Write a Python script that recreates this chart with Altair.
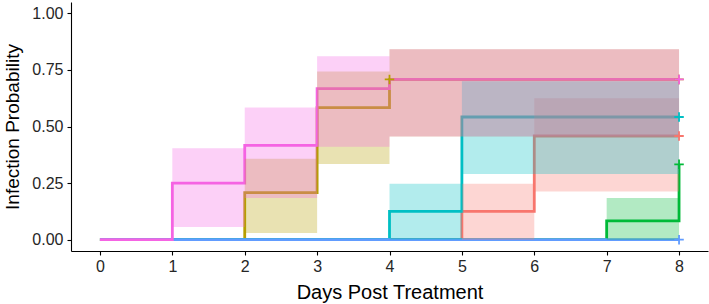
import altair as alt
import pandas as pd

# ---- data ----
groups = ["Group 1", "Group 2", "Group 3", "Group 4", "Group 5", "Group 6"]
colors = ["#F8766D", "#B79F00", "#00BA38", "#00BFC4", "#619CFF", "#F564E3"]

times = [
    [0, 5, 6, 8],
    [0, 2, 3, 4, 8],
    [0, 7, 8],
    [0, 4, 5, 8],
    [0, 8],
    [0, 1, 2, 3, 4, 8],
]
estimates = [
    [0, 0.125, 0.458, 0.458],
    [0, 0.208, 0.583, 0.708, 0.708],
    [0, 0.083, 0.333],
    [0, 0.125, 0.542, 0.542],
    [0, 0],
    [0, 0.25, 0.417, 0.667, 0.708, 0.708],
]
lowers = [
    [0, 0, 0.213, 0.213],
    [0, 0.029, 0.334, 0.456, 0.456],
    [0, 0, 0.333],
    [0, 0, 0.29, 0.29],
    [0, 0],
    [0, 0.056, 0.184, 0.41, 0.456, 0.456],
]
uppers = [
    [0, 0.247, 0.625, 0.625],
    [0, 0.357, 0.743, 0.841, 0.841],
    [0, 0.184, 0.333],
    [0, 0.247, 0.70, 0.70],
    [0, 0],
    [0, 0.404, 0.584, 0.81, 0.841, 0.841],
]
censor_group = ["Group 1", "Group 2", "Group 2", "Group 3", "Group 4", "Group 5", "Group 6"]
censor_time = [8, 4, 8, 8, 8, 8, 8]
censor_value = [0.458, 0.708, 0.708, 0.333, 0.542, 0.0, 0.708]

x_ticks = [0, 1, 2, 3, 4, 5, 6, 7, 8]
y_ticks = [0, 0.25, 0.5, 0.75, 1.0]

# ---- tables ----
rows = []
for g, ts, es, ls, us in zip(groups, times, estimates, lowers, uppers):
    for t, e, lo, up in zip(ts, es, ls, us):
        rows.append({"group": g, "time": t, "est": e, "lower": lo, "upper": up})
df = pd.DataFrame(rows)
cens = pd.DataFrame({"group": censor_group, "time": censor_time, "est": censor_value})

FONT = "Liberation Sans"
color = alt.Color("group:N", scale=alt.Scale(domain=groups, range=colors), legend=None)

x_axis = alt.Axis(values=x_ticks, title="Days Post Treatment", grid=False,
                  domainColor="black", tickColor="black", domainWidth=1.1, tickWidth=1.1,
                  tickSize=4, labelFontSize=16, labelColor="#262626", labelFont=FONT,
                  labelPadding=3, titleFont=FONT, titleFontSize=20, titleFontWeight="normal",
                  titleColor="black", titleBaseline="alphabetic", titleY=47)
y_axis = alt.Axis(values=y_ticks, format=".2f", title="Infection Probability", grid=False,
                  domainColor="black", tickColor="black", domainWidth=1.1, tickWidth=1.1,
                  tickSize=4, labelFontSize=16, labelColor="#262626", labelFont=FONT,
                  labelPadding=4, titleFont=FONT, titleFontSize=19, titleFontWeight="normal",
                  titleColor="black", titleBaseline="alphabetic", titleX=-53)

x = alt.X("time:Q", scale=alt.Scale(domain=[-0.4, 8.4], nice=False, zero=False), axis=x_axis)
y_scale = alt.Scale(domain=[-0.05, 1.05], nice=False, zero=False)

lines = alt.Chart(df).mark_line(interpolate="step-after", strokeWidth=2.8).encode(
    x=x, y=alt.Y("est:Q", scale=y_scale, axis=y_axis), color=color
)
bands = alt.Chart(df).mark_area(interpolate="step-after", opacity=0.3).encode(
    x=x, y=alt.Y("lower:Q", scale=y_scale, axis=y_axis), y2="upper:Q", color=color
)
marks = alt.Chart(cens).mark_point(shape="M-1,0L1,0M0,-1L0,1", filled=False, size=90,
                                   strokeWidth=1.8, opacity=1).encode(
    x=x, y=alt.Y("est:Q", scale=y_scale, axis=y_axis), color=color
)

chart = alt.layer(lines, bands, marks).properties(
    width=637, height=249,
    autosize=alt.AutoSizeParams(type="none"),
    padding={"left": 71, "top": 2, "right": 1, "bottom": 53},
).configure_view(stroke=None)

chart.save("out.html", embed_options={"renderer": "svg", "actions": False})
